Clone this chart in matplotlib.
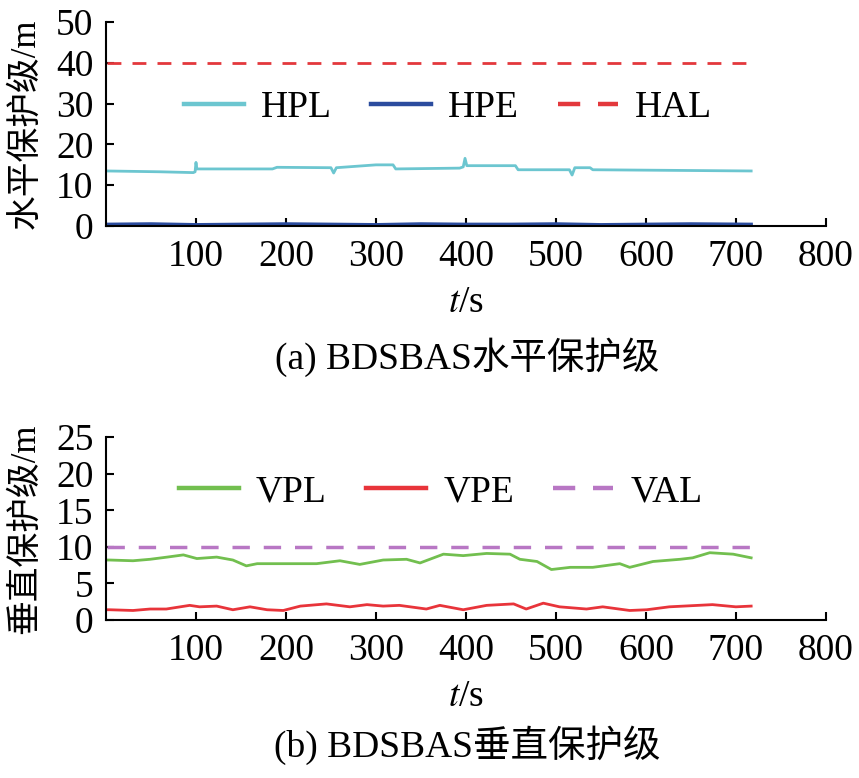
import matplotlib
matplotlib.use('Agg')
import matplotlib.pyplot as plt

plt.rcParams['font.family'] = ['Liberation Serif', 'Noto Sans CJK SC']
plt.rcParams['mathtext.fontset'] = 'stix'

# (a) 水平保护级 HPL / HPE / HAL
t_hpl = [1, 60, 97, 99, 100, 101, 185, 190, 250, 253, 256, 300, 319, 322,
         393, 397, 399, 401, 455, 458, 515, 518, 521, 538, 541, 717]
hpl = [13.5, 13.3, 13.1, 13.3, 15.6, 14.0, 14.0, 14.4, 14.3, 13.0, 14.3, 15.0, 15.0, 14.0,
       14.2, 14.5, 16.6, 14.8, 14.8, 13.8, 13.8, 12.5, 14.3, 14.3, 13.8, 13.5]
t_hpe = [1, 50, 100, 150, 200, 250, 300, 350, 400, 450, 500, 550, 600, 650, 717]
hpe = [0.4, 0.5, 0.3, 0.4, 0.5, 0.4, 0.3, 0.5, 0.4, 0.4, 0.5, 0.3, 0.4, 0.5, 0.4]
hal = 40

# (b) 垂直保护级 VPL / VPE / VAL
t_vpl = [1, 4, 30, 49, 68, 86, 101, 123, 141, 156, 168, 197, 234, 260, 282, 308, 334, 349,
         375, 397, 423, 449, 460, 479, 495, 516, 541, 571, 582, 608, 638, 652, 671, 697, 717]
vpl = [8.2, 8.2, 8.1, 8.3, 8.6, 8.9, 8.4, 8.6, 8.2, 7.4, 7.7, 7.7, 7.7, 8.1, 7.6, 8.2, 8.3, 7.8,
       9.0, 8.8, 9.1, 9.0, 8.3, 8.0, 6.9, 7.2, 7.2, 7.7, 7.2, 8.0, 8.3, 8.5, 9.2, 9.0, 8.5]
t_vpe = [1, 4, 30, 49, 67, 93, 104, 123, 141, 160, 179, 197, 216, 245, 271, 290, 308, 326, 356,
         371, 397, 423, 453, 467, 486, 504, 534, 552, 582, 601, 626, 674, 700, 717]
vpe = [1.4, 1.4, 1.3, 1.5, 1.5, 2.0, 1.8, 1.9, 1.4, 1.8, 1.4, 1.3, 1.9, 2.2, 1.8, 2.1, 1.9, 2.0, 1.5,
       2.0, 1.4, 2.0, 2.2, 1.5, 2.3, 1.8, 1.5, 1.8, 1.3, 1.4, 1.8, 2.1, 1.8, 1.9]
val = 10

xticks = [100, 200, 300, 400, 500, 600, 700, 800]
fs = 27

fig = plt.figure(figsize=(8.59, 7.78), dpi=100)
ax1 = fig.add_axes([0.1234, 0.7095, 0.838, 0.262])
ax2 = fig.add_axes([0.1234, 0.2031, 0.838, 0.235])


def style(ax, ymax, ystep, ylabel):
    ax.set_xlim(0, 800)
    ax.set_ylim(0, ymax)
    ax.set_xticks(xticks)
    ax.set_yticks(range(0, ymax + 1, ystep))
    ax.spines['top'].set_visible(False)
    ax.spines['right'].set_visible(False)
    for s in ['left', 'bottom']:
        ax.spines[s].set_linewidth(1.5)
    ax.tick_params(direction='in', length=6, width=1.5, labelsize=fs)
    ax.tick_params(axis='x', pad=10)
    ax.tick_params(axis='y', pad=9)
    ax.set_xlabel('$t$/s', fontsize=fs, labelpad=8)
    ax.set_ylabel(ylabel, fontsize=25, labelpad=10)


leg_kw = dict(loc='center', ncol=3, frameon=False, fontsize=fs,
              handlelength=1.6, handletextpad=0.45, columnspacing=1.05)

ax1.plot(t_hpl, hpl, color='#6cc6d0', lw=2, label='HPL')
ax1.plot(t_hpe, hpe, color='#2b4c9e', lw=2.5, label='HPE')
ax1.plot([t_hpl[0], t_hpl[-1]], [hal, hal], color='#e3383c', lw=2, ls=(0, (5, 4)), label='HAL')
style(ax1, 50, 10, '水平保护级/m')
leg1 = ax1.legend(bbox_to_anchor=(0.475, 0.58), **leg_kw)

ax2.plot(t_vpl, vpl, color='#72bf4f', lw=2, label='VPL')
ax2.plot(t_vpe, vpe, color='#e8343a', lw=2, label='VPE')
ax2.plot([t_vpl[0], t_vpl[-1]], [val, val], color='#b877c4', lw=2.5, ls=(0, (5, 4)), label='VAL')
style(ax2, 25, 5, '垂直保护级/m')
leg2 = ax2.legend(bbox_to_anchor=(0.465, 0.70), **leg_kw)

# 범례 선은 본문보다 약간 굵게
for leg in (leg1, leg2):
    for ln in leg.get_lines():
        ln.set_linewidth(3.2)

fig.text(0.544, 1 - 357 / 778, '(a) BDSBAS水平保护级', fontsize=fs, ha='center', va='center')
fig.text(0.544, 1 - 745 / 778, '(b) BDSBAS垂直保护级', fontsize=fs, ha='center', va='center')

fig.savefig('out.png', dpi=100)
